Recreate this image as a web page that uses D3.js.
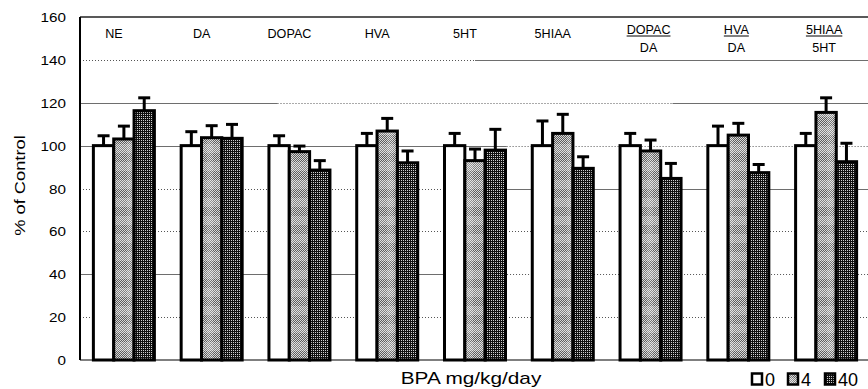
<!DOCTYPE html>
<html>
<head>
<meta charset="utf-8">
<script src="https://cdn.jsdelivr.net/npm/d3@7"></script>
<style>
  html, body { margin: 0; padding: 0; background: #fff; }
  svg { display: block; }
  text { font-family: "Liberation Sans", Arial, sans-serif; fill: #000; }
</style>
</head>
<body>
<svg id="chart" width="868" height="389"></svg>
<script>
// ---------- data ----------
const categories = ["NE", "DA", "DOPAC", "HVA", "5HT", "5HIAA", "DOPAC/DA", "HVA/DA", "5HIAA/5HT"];
const doses = ["0", "4", "40"];
const values0  = [100, 100, 100, 100, 100, 100, 100, 100, 100];
const values4  = [103.1, 103.7, 97.2, 106.8, 93.0, 105.7, 97.5, 104.9, 115.5];
const values40 = [116.3, 103.4, 88.6, 92.0, 97.9, 89.4, 84.7, 87.4, 92.5];
const err0  = [4.6, 6.5, 4.6, 5.7, 5.7, 11.5, 5.7, 9.1, 5.7];
const err4  = [6.0, 5.6, 2.6, 5.9, 5.4, 8.9, 5.1, 5.5, 6.8];
const err40 = [6.0, 6.5, 4.4, 5.5, 9.7, 5.4, 7.0, 3.8, 8.6];
const yTicks = [0, 20, 40, 60, 80, 100, 120, 140, 160];
const yLabel = "% of Control";
const xLabel = "BPA mg/kg/day";

const seriesValues = [values0, values4, values40];
const seriesErr = [err0, err4, err40];

// ---------- layout ----------
const svg = d3.select("#chart");
const X0 = 80, X1 = 870, Y0 = 360, Y1 = 17;

const x = d3.scaleBand().domain(categories).range([X0, X1]).paddingInner(0.305).paddingOuter(0.1525);
const xs = d3.scaleBand().domain(doses).range([0, x.bandwidth()]);
const y = d3.scaleLinear().domain([0, 160]).range([Y0, Y1]);

// ---------- patterns ----------
const defs = svg.append("defs");
const pc = defs.append("pattern").attr("id", "chk").attr("patternUnits", "userSpaceOnUse")
  .attr("width", 2).attr("height", 2);
pc.append("rect").attr("width", 2).attr("height", 2).attr("fill", "#5c5c5c");
pc.append("rect").attr("x", 0).attr("y", 0).attr("width", 1).attr("height", 1).attr("fill", "#d8d8d8");
pc.append("rect").attr("x", 1).attr("y", 1).attr("width", 1).attr("height", 1).attr("fill", "#d8d8d8");

const p4 = defs.append("pattern").attr("id", "p4").attr("patternUnits", "userSpaceOnUse")
  .attr("width", 20).attr("height", 18);
p4.append("rect").attr("width", 20).attr("height", 18).attr("fill", "url(#chk)");
p4.append("rect").attr("x", 0).attr("y", 0).attr("width", 20).attr("height", 9).attr("fill", "#fff").attr("opacity", 0.22);
p4.append("rect").attr("x", 7).attr("y", 0).attr("width", 6).attr("height", 18).attr("fill", "#fff").attr("opacity", 0.15);

const p40 = defs.append("pattern").attr("id", "p40").attr("patternUnits", "userSpaceOnUse")
  .attr("width", 2).attr("height", 2);
p40.append("rect").attr("width", 2).attr("height", 2).attr("fill", "#111");
p40.append("rect").attr("x", 1).attr("y", 0).attr("width", 1).attr("height", 1).attr("fill", "#d0d0d0");

const fills = ["#ffffff", "url(#p4)", "url(#p40)"];

// ---------- gridlines (solid / dotted segments, fractions of plot width) ----------
const gridStyle = {
  140: [["dot", 0, 0.5], ["solid", 0.5, 1]],
  120: [["solid", 0, 0.25], ["dot", 0.25, 0.75], ["solid", 0.75, 1]],
  100: [["solid", 0, 0.54], ["dot", 0.54, 1]],
  80:  [["dot", 0, 0.5], ["solid", 0.5, 1]],
  60:  [["dot", 0, 1]],
  40:  [["solid", 0, 0.495], ["dot", 0.495, 1]],
  20:  [["dot", 0, 1]],
};
const W = X1 - X0;
const grid = svg.append("g");
yTicks.filter(t => gridStyle[t]).forEach(t => {
  gridStyle[t].forEach(([st, a, b]) => {
    grid.append("line")
      .attr("x1", X0 + a * W).attr("x2", X0 + b * W)
      .attr("y1", Math.round(y(t)) + 0.5).attr("y2", Math.round(y(t)) + 0.5)
      .attr("stroke", st === "solid" ? "#6e6e6e" : "#555")
      .attr("stroke-width", 1)
      .attr("stroke-dasharray", st === "solid" ? null : "1,2");
  });
});

// top border and baseline
svg.append("line").attr("x1", X0).attr("x2", X1).attr("y1", y(160)).attr("y2", y(160))
  .attr("stroke", "#222").attr("stroke-width", 1.5);
svg.append("line").attr("x1", X0).attr("x2", X1).attr("y1", y(0)).attr("y2", y(0))
  .attr("stroke", "#555").attr("stroke-width", 1.5);

// ---------- bars ----------
const bars = svg.append("g");
categories.forEach((c, i) => {
  doses.forEach((d, s) => {
    const v = seriesValues[s][i];
    const e = seriesErr[s][i];
    const bx = x(c) + xs(d);
    const bw = xs.bandwidth();
    const cx = bx + bw / 2;
    // error bar (upward only)
    bars.append("line").attr("x1", cx).attr("x2", cx).attr("y1", y(v)).attr("y2", y(v + e))
      .attr("stroke", "#000").attr("stroke-width", 3);
    bars.append("line").attr("x1", cx - 6).attr("x2", cx + 6).attr("y1", y(v + e)).attr("y2", y(v + e))
      .attr("stroke", "#000").attr("stroke-width", 3);
    bars.append("rect")
      .attr("x", bx).attr("y", y(v)).attr("width", bw).attr("height", y(0) - y(v))
      .attr("fill", fills[s]).attr("stroke", "#000").attr("stroke-width", 3);
  });
});

// left axis line
svg.append("line").attr("x1", X0).attr("x2", X0).attr("y1", y(160)).attr("y2", y(0))
  .attr("stroke", "#000").attr("stroke-width", 2);

// ---------- y axis via d3 ----------
const yAxis = d3.axisLeft(y).tickValues(yTicks).tickSize(0).tickPadding(0);
const ya = svg.append("g").attr("transform", `translate(66,0)`).call(yAxis);
ya.select(".domain").remove();
ya.selectAll(".tick text")
  .attr("x", 0).attr("dy", "0.36em")
  .style("font-family", "'Liberation Sans', Arial, sans-serif")
  .style("font-size", "12.5px")
  .attr("transform", "scale(1.22,1)");

// ---------- category labels ----------
const lab = svg.append("g");
const LS = 1.05;
categories.forEach(c => {
  const cx = x(c) + x.bandwidth() / 2;
  const parts = c.split("/");
  if (parts.length === 1) {
    lab.append("text").attr("transform", `translate(${cx - 10},37.5) scale(${LS},1)`)
      .attr("text-anchor", "middle").style("font-size", "12px").text(c);
  } else {
    const t = lab.append("text").attr("transform", `translate(${cx - 2},34) scale(${LS},1)`)
      .attr("text-anchor", "middle").style("font-size", "12px").text(parts[0]);
    const w = t.node().getComputedTextLength() * LS;
    lab.append("line").attr("x1", cx - 2 - w / 2).attr("x2", cx - 2 + w / 2)
      .attr("y1", 36).attr("y2", 36).attr("stroke", "#000").attr("stroke-width", 1);
    lab.append("text").attr("transform", `translate(${cx - 2},51.5) scale(${LS},1)`)
      .attr("text-anchor", "middle").style("font-size", "12px").text(parts[1]);
  }
});

// ---------- axis titles ----------
svg.append("text").attr("transform", "translate(25,185.5) rotate(-90) scale(1.26,1)")
  .attr("text-anchor", "middle").style("font-size", "14.5px").text(yLabel);
svg.append("text").attr("transform", "translate(471,383.5) scale(1.3,1)")
  .attr("text-anchor", "middle").style("font-size", "16px").text(xLabel);

// ---------- legend ----------
const lg = svg.append("g");
const legendX = [752, 788, 825];
doses.forEach((d, s) => {
  lg.append("rect").attr("x", legendX[s]).attr("y", 373.5).attr("width", 10).attr("height", 11)
    .attr("fill", fills[s]).attr("stroke", "#000").attr("stroke-width", 2.5);
  lg.append("text").attr("x", legendX[s] + 13).attr("y", 386)
    .style("font-size", "18px").text(d);
});
</script>
</body>
</html>
